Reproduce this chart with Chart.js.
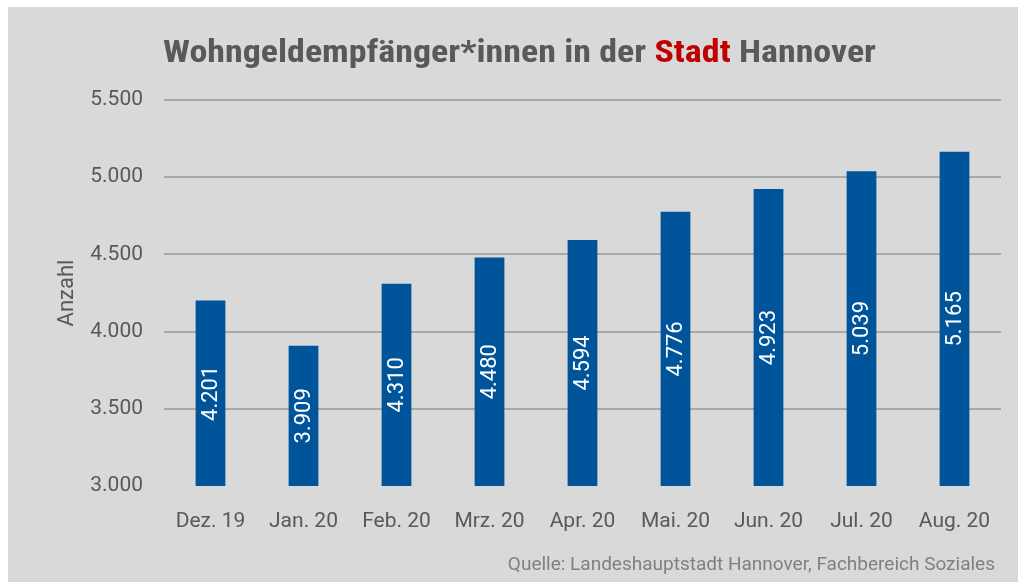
<!DOCTYPE html>
<html>
<head>
<meta charset="utf-8">
<script src="https://cdn.jsdelivr.net/npm/chart.js@4"></script>
<style>
  html, body { margin: 0; padding: 0; background: #fff; }
  #wrap { position: absolute; left: 8px; top: 7px; width: 1010px; height: 575px; background: #d9d9d9; }
</style>
</head>
<body>
<div id="wrap"><canvas id="chart"></canvas></div>
<script>
const months = ['Dez. 19', 'Jan. 20', 'Feb. 20', 'Mrz. 20', 'Apr. 20', 'Mai. 20', 'Jun. 20', 'Jul. 20', 'Aug. 20'];
const recipients = [4201, 3909, 4310, 4480, 4594, 4776, 4923, 5039, 5165];
const yMin = 3000;
const yMax = 5500;
const yStep = 500;
const titleParts = [
  ['Wohngeldempfänger*innen in der ', '#595959'],
  ['Stadt', '#c00000'],
  [' Hannover', '#595959'],
];
const sourceText = 'Quelle: Landeshauptstadt Hannover, Fachbereich Soziales';

const fmt = (v) => String(v).replace(/\B(?=(\d{3})+(?!\d))/g, '.');

Chart.defaults.font.family = 'Roboto';
Chart.defaults.color = '#595959';

// title with the red "Stadt" and the source line
const decorations = {
  id: 'decorations',
  afterDraw(chart) {
    const { ctx } = chart;
    ctx.save();
    ctx.font = 'bold 32px "Liberation Sans Narrow", "Roboto Condensed", "DejaVu Sans Condensed", sans-serif';
    ctx.textBaseline = 'alphabetic';
    ctx.textAlign = 'left';
    // the original uses a condensed face, squeeze to its width
    const full = titleParts.map((p) => p[0]).join('');
    const sx = 713 / ctx.measureText(full).width;
    ctx.translate(155, 55);
    ctx.scale(sx, 1);
    let x = 0;
    titleParts.forEach(([txt, col]) => {
      ctx.fillStyle = col;
      ctx.fillText(txt, x, 0);
      x += ctx.measureText(txt).width;
    });
    ctx.restore();

    ctx.save();
    ctx.font = '19px Roboto';
    ctx.fillStyle = '#808080';
    ctx.textAlign = 'right';
    ctx.textBaseline = 'middle';
    ctx.fillText(sourceText, 987, 558);
    ctx.restore();
  },
};

// vertical value labels inside the bars
const barLabels = {
  id: 'barLabels',
  afterDatasetsDraw(chart) {
    const { ctx } = chart;
    const meta = chart.getDatasetMeta(0);
    const yScale = chart.scales.y;
    const base = yScale.getPixelForValue(yMin);
    ctx.save();
    ctx.font = '22px Roboto';
    ctx.fillStyle = '#ffffff';
    ctx.textAlign = 'center';
    ctx.textBaseline = 'middle';
    meta.data.forEach((bar, i) => {
      const top = yScale.getPixelForValue(recipients[i]);
      ctx.save();
      ctx.translate(bar.x, (top + base) / 2);
      ctx.rotate(-Math.PI / 2);
      ctx.fillText(fmt(recipients[i]), 0, 1);
      ctx.restore();
    });
    ctx.restore();
  },
};

new Chart(document.getElementById('chart'), {
  type: 'bar',
  plugins: [decorations, barLabels],
  data: {
    labels: months,
    datasets: [{
      data: recipients,
      backgroundColor: '#00549a',
      hoverBackgroundColor: '#00549a',
      barPercentage: 0.32,
      categoryPercentage: 1,
    }],
  },
  options: {
    responsive: true,
    maintainAspectRatio: false,
    animation: false,
    layout: {
      padding: { top: 93, right: 17, bottom: 0, left: 0 },
    },
    plugins: {
      legend: { display: false },
      tooltip: { enabled: false },
      title: { display: false },
    },
    scales: {
      x: {
        grid: { display: false },
        border: { display: false },
        ticks: {
          padding: 15,
          maxRotation: 0,
          font: { size: 21 },
          color: '#595959',
        },
        afterFit: (s) => { s.height = 96; },
      },
      y: {
        min: yMin,
        max: yMax,
        ticks: {
          stepSize: yStep,
          padding: 21,
          font: { size: 21 },
          color: '#595959',
          callback: (v) => fmt(v),
        },
        grid: {
          drawTicks: false,
          lineWidth: 2,
          color: (c) => (c.tick && c.tick.value === yMin ? 'rgba(0,0,0,0)' : '#a8a8a8'),
        },
        border: { display: false },
        title: {
          display: true,
          text: 'Anzahl',
          font: { size: 22 },
          color: '#595959',
          padding: { top: 46, bottom: 0 },
        },
        afterFit: (s) => { s.width = 156; },
      },
    },
  },
});
</script>
</body>
</html>
